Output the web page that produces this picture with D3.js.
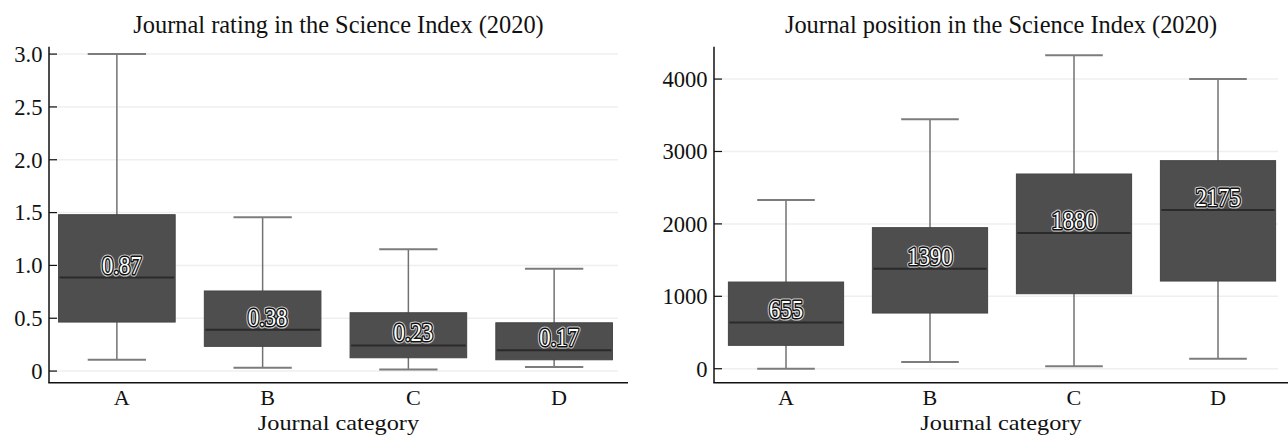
<!DOCTYPE html>
<html>
<head>
<meta charset="utf-8">
<script src="https://cdn.jsdelivr.net/npm/d3@7"></script>
<style>
  html, body { margin: 0; padding: 0; background: #fff; }
  svg { display: block; font-family: "Liberation Serif", "Times New Roman", serif; }
</style>
</head>
<body>
<svg id="chart" width="1288" height="435"></svg>
<script>
// ---- data ----
const categories = ["A", "B", "C", "D"];

const ratingMin    = [0.107, 0.031, 0.016, 0.038];
const ratingQ1     = [0.464, 0.234, 0.126, 0.107];
const ratingMedian = [0.885, 0.390, 0.243, 0.196];
const ratingQ3     = [1.480, 0.758, 0.552, 0.457];
const ratingMax    = [3.000, 1.455, 1.152, 0.969];
const ratingLabels = ["0.87", "0.38", "0.23", "0.17"];
const ratingTicks  = [0, 0.5, 1.0, 1.5, 2.0, 2.5, 3.0];
const ratingTickLabels = ["0", "0.5", "1.0", "1.5", "2.0", "2.5", "3.0"];

const positionMin    = [0, 92, 33, 138];
const positionQ1     = [323, 769, 1036, 1211];
const positionMedian = [640, 1381, 1874, 2192];
const positionQ3     = [1197, 1948, 2689, 2873];
const positionMax    = [2330, 3445, 4329, 4001];
const positionLabels = ["655", "1390", "1880", "2175"];
const positionTicks  = [0, 1000, 2000, 3000, 4000];
const positionTickLabels = ["0", "1000", "2000", "3000", "4000"];

const titles = ["Journal rating in the Science Index (2020)", "Journal position in the Science Index (2020)"];
const xTitle = "Journal category";

// ---- layout ----
const svg = d3.select("#chart");

function stretch(sel, k) {
  sel.each(function () {
    const len = this.getComputedTextLength();
    if (len > 0) {
      d3.select(this).attr("textLength", len * k).attr("lengthAdjust", "spacingAndGlyphs");
    }
  });
}

function drawPanel(cfg) {
  const g = svg.append("g");
  const y = d3.scaleLinear().domain(cfg.yDomain).range([382.7, 46.7]);
  const x = d3.scaleBand().domain(categories).range(cfg.xRange).paddingInner(0.2).paddingOuter(0.1);
  const bw = x.bandwidth();
  const boxes = categories.map((c, i) => ({
    c, min: cfg.min[i], q1: cfg.q1[i], med: cfg.med[i], q3: cfg.q3[i], max: cfg.max[i], label: cfg.labels[i]
  }));

  // gridlines
  g.append("g").selectAll("line").data(cfg.ticks).join("line")
    .attr("x1", cfg.xRange[0] + 1).attr("x2", cfg.axisEnd - 10)
    .attr("y1", d => y(d)).attr("y2", d => y(d))
    .attr("stroke", "#efefef").attr("stroke-width", 1.5);

  const bg = g.append("g").attr("transform", `translate(${cfg.boxShift},0)`);
  const cx = d => x(d.c) + bw / 2;

  // whiskers
  bg.selectAll("line.wh").data(boxes).join("line").attr("class", "wh")
    .attr("x1", cx).attr("x2", cx)
    .attr("y1", d => y(d.min)).attr("y2", d => y(d.max))
    .attr("stroke", "#727272").attr("stroke-width", 1.5);
  // caps
  ["min", "max"].forEach(k => {
    bg.selectAll("line.cap-" + k).data(boxes).join("line").attr("class", "cap-" + k)
      .attr("x1", d => cx(d) - bw * 0.25).attr("x2", d => cx(d) + bw * 0.25)
      .attr("y1", d => y(d[k])).attr("y2", d => y(d[k]))
      .attr("stroke", "#7c7c7c").attr("stroke-width", 2);
  });
  // boxes
  bg.selectAll("rect").data(boxes).join("rect")
    .attr("x", d => x(d.c)).attr("width", bw)
    .attr("y", d => y(d.q3)).attr("height", d => y(d.q1) - y(d.q3))
    .attr("fill", "#4e4e4e").attr("stroke", "#444").attr("stroke-width", 1);
  // medians
  bg.selectAll("line.med").data(boxes).join("line").attr("class", "med")
    .attr("x1", d => x(d.c) + 1).attr("x2", d => x(d.c) + bw - 1)
    .attr("y1", d => y(d.med)).attr("y2", d => y(d.med))
    .attr("stroke", "#2a2a2a").attr("stroke-width", 2);
  // median labels (outlined white text: light halo, dark outline, white fill)
  const layers = [
    { cls: "ml-halo", stroke: "#cfcfcf", sw: 5.2, fill: "#cfcfcf" },
    { cls: "ml-line", stroke: "#111", sw: 3.0, fill: "#111" },
    { cls: "ml-fill", stroke: "none", sw: 0, fill: "#fff" }
  ];
  layers.forEach(L => {
    const t = bg.selectAll("text." + L.cls).data(boxes).join("text").attr("class", L.cls)
      .attr("x", d => cx(d) + cfg.labelDx).attr("y", d => y(d.med) - 4)
      .attr("text-anchor", "middle").attr("font-size", 26)
      .attr("fill", L.fill).attr("stroke", L.stroke).attr("stroke-width", L.sw)
      .attr("stroke-linejoin", "round")
      .text(d => d.label);
    stretch(t, 0.87);
  });

  // y axis line
  g.append("line").attr("x1", cfg.xRange[0]).attr("x2", cfg.xRange[0])
    .attr("y1", 46.7).attr("y2", 382.7).attr("stroke", "#111").attr("stroke-width", 1.5);
  // x axis line
  g.append("line").attr("x1", cfg.xRange[0] - 0.75).attr("x2", cfg.axisEnd)
    .attr("y1", 382.7).attr("y2", 382.7).attr("stroke", "#111").attr("stroke-width", 1.5);

  // y ticks (inward)
  g.append("g").selectAll("line").data(cfg.ticks).join("line")
    .attr("x1", cfg.xRange[0]).attr("x2", cfg.xRange[0] + 8)
    .attr("y1", d => y(d)).attr("y2", d => y(d))
    .attr("stroke", "#111").attr("stroke-width", 1.2);
  const tl = g.append("g").selectAll("text").data(cfg.ticks).join("text")
    .attr("x", cfg.xRange[0] - 6.5).attr("y", d => y(d)).attr("dy", "0.34em")
    .attr("text-anchor", "end").attr("font-size", 23).attr("fill", "#111")
    .text((d, i) => cfg.tickLabels[i]);
  stretch(tl, 0.98);

  // category labels
  const cl = g.append("g").selectAll("text").data(categories).join("text")
    .attr("x", d => x(d) + bw / 2 + cfg.boxShift + cfg.labelDx).attr("y", 404.5)
    .attr("text-anchor", "middle").attr("font-size", 20.5).attr("fill", "#111")
    .text(d => d);
  stretch(cl, 1.08);

  // axis title
  const at = g.append("text").attr("x", (cfg.xRange[0] + cfg.axisEnd) / 2).attr("y", 430)
    .attr("text-anchor", "middle").attr("font-size", 21.5).attr("fill", "#111").text(xTitle);
  stretch(at, 1.13);

  // chart title
  g.append("text").attr("x", (cfg.xRange[0] + cfg.axisEnd) / 2).attr("y", 33)
    .attr("text-anchor", "middle").attr("font-size", 24.4).attr("fill", "#111").text(cfg.title);
}

drawPanel({
  title: titles[0], yDomain: [-0.11, 3.07], xRange: [49, 632], axisEnd: 628, boxShift: -5, labelDx: 5,
  min: ratingMin, q1: ratingQ1, med: ratingMedian, q3: ratingQ3, max: ratingMax, labels: ratingLabels,
  ticks: ratingTicks, tickLabels: ratingTickLabels
});
drawPanel({
  title: titles[1], yDomain: [-193, 4447], xRange: [714, 1290], axisEnd: 1288, boxShift: 0, labelDx: 0,
  min: positionMin, q1: positionQ1, med: positionMedian, q3: positionQ3, max: positionMax, labels: positionLabels,
  ticks: positionTicks, tickLabels: positionTickLabels
});
</script>
</body>
</html>
